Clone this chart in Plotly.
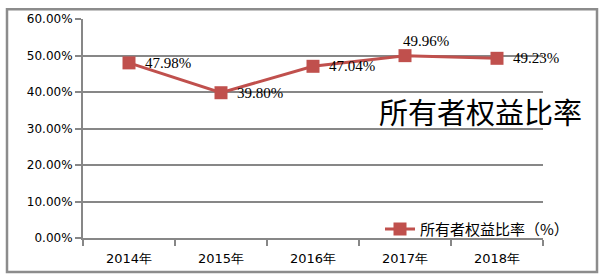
import plotly.graph_objects as go

years = ["2014年", "2015年", "2016年", "2017年", "2018年"]
ratio = [0.4798, 0.3980, 0.4704, 0.4996, 0.4923]
labels = ["47.98%", "39.80%", "47.04%", "49.96%", "49.23%"]
label_above = [False, False, False, True, False]
series_name = "所有者权益比率（%）"
title_text = "所有者权益比率"

red = "#C0504D"
grid = "#878787"

fig = go.Figure()
fig.add_trace(go.Scatter(
    x=years, y=ratio, name=series_name,
    mode="lines+markers",
    line=dict(color=red, width=3),
    marker=dict(symbol="square", size=13, color=red),
    cliponaxis=False,
))

for xv, yv, lab, above in zip(years, ratio, labels, label_above):
    if above:
        fig.add_annotation(x=xv, y=yv, text=lab, showarrow=False,
                           xanchor="left", yanchor="bottom", xshift=-4, yshift=5,
                           font=dict(family="Liberation Serif", size=15, color="#000000"))
    else:
        fig.add_annotation(x=xv, y=yv, text=lab, showarrow=False,
                           xanchor="left", yanchor="middle", xshift=14, yshift=0,
                           font=dict(family="Liberation Serif", size=15, color="#000000"))

fig.add_annotation(
    text=title_text, xref="paper", yref="paper",
    x=(480 - 83) / 460, y=(238 - 108) / 225,
    xanchor="center", yanchor="middle", showarrow=False,
    font=dict(family="Noto Sans CJK SC", size=29, color="#000000"),
)

fig.add_shape(
    type="rect", xref="paper", yref="paper",
    x0=(7 - 83) / 460, x1=(597 - 83) / 460,
    y0=(238 - 273) / 225, y1=(238 - 3) / 225,
    line=dict(color="#8C8C8C", width=2.5), layer="below",
)

fig.update_layout(
    width=603, height=280,
    margin=dict(l=83, r=60, t=13, b=42),
    paper_bgcolor="white", plot_bgcolor="white",
    showlegend=True,
    legend=dict(
        x=(380 - 83) / 460, y=(238 - 229) / 225,
        xanchor="left", yanchor="middle",
        bgcolor="rgba(0,0,0,0)",
        font=dict(family="Noto Sans CJK SC", size=15, color="#000000"),
        itemwidth=30,
    ),
)
fig.update_xaxes(
    type="category", range=[-0.5, 4.5],
    showline=True, linecolor=grid, linewidth=2,
    ticks="outside", tickson="boundaries", ticklen=6, tickcolor=grid, tickwidth=2,
    showgrid=False,
    tickfont=dict(family="DejaVu Sans", size=13, color="#000000"),
    ticklabelstandoff=7,
)
fig.update_yaxes(
    range=[0, 0.6], dtick=0.1, tickformat=".2%",
    showline=True, linecolor=grid, linewidth=2,
    ticks="outside", ticklen=6, tickcolor=grid, tickwidth=2,
    showgrid=True, gridcolor=grid, gridwidth=2,
    zeroline=False,
    tickfont=dict(family="DejaVu Sans", size=12, color="#000000"),
)

fig.write_html("out.html")
